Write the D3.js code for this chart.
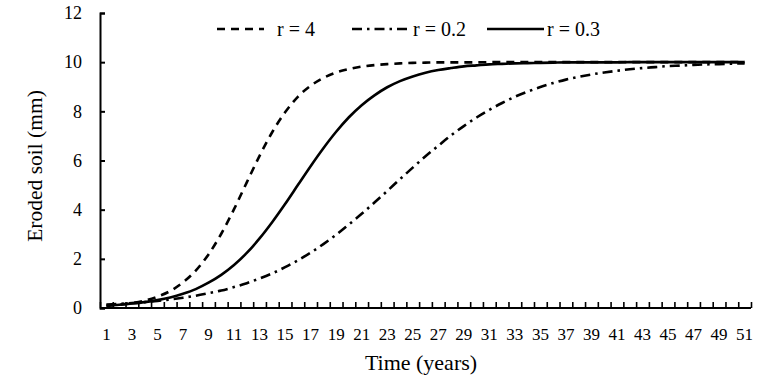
<!DOCTYPE html>
<html>
<head>
<meta charset="utf-8">
<script src="https://cdn.jsdelivr.net/npm/d3@7"></script>
<style>
  html, body { margin: 0; padding: 0; background: #fff; }
  svg { display: block; }
  text { font-family: "Liberation Serif", "Times New Roman", serif; fill: #000; }
</style>
</head>
<body>
<svg id="chart" width="783" height="388"></svg>
<script>
// ---- data ----
const years = d3.range(1, 52);
const xTickLabels = d3.range(1, 52, 2);
const yTickValues = [0, 2, 4, 6, 8, 10, 12];
const seriesNames = ["r = 4", "r = 0.2", "r = 0.3"];

const r4 = [0.08, 0.13, 0.20, 0.30, 0.46, 0.69, 1.04, 1.52, 2.18, 3.02,
            4.02, 5.11, 6.19, 7.16, 7.96, 8.59, 9.04, 9.36, 9.58, 9.72,
            9.82, 9.88, 9.92, 9.95, 9.97, 9.98, 9.99, 9.99, 9.99, 9.99,
            10, 10, 10, 10, 10, 10, 10, 10, 10, 10,
            10, 10, 10, 10, 10, 10, 10, 10, 10, 10, 10];

const r02 = [0.14, 0.17, 0.20, 0.24, 0.29, 0.35, 0.42, 0.50, 0.60, 0.71,
             0.85, 1.01, 1.20, 1.41, 1.66, 1.94, 2.25, 2.60, 2.98, 3.40,
             3.83, 4.29, 4.76, 5.24, 5.71, 6.17, 6.60, 7.02, 7.40, 7.75,
             8.06, 8.34, 8.59, 8.80, 8.99, 9.15, 9.29, 9.40, 9.50, 9.58,
             9.65, 9.71, 9.76, 9.80, 9.84, 9.86, 9.89, 9.91, 9.92, 9.94, 9.95];

const r03 = [0.10, 0.13, 0.18, 0.24, 0.32, 0.43, 0.58, 0.77, 1.03, 1.35,
             1.75, 2.24, 2.83, 3.50, 4.23, 5.00, 5.77, 6.50, 7.17, 7.76,
             8.25, 8.65, 8.98, 9.23, 9.42, 9.57, 9.68, 9.76, 9.83, 9.87,
             9.91, 9.93, 9.95, 9.96, 9.97, 9.98, 9.99, 9.99, 9.99, 9.99,
             9.99, 10, 10, 10, 10, 10, 10, 10, 10, 10, 10];

const series = [
  { name: seriesNames[0], values: r4,  dash: "8,6" },
  { name: seriesNames[1], values: r02, dash: "10,5,2.5,5" },
  { name: seriesNames[2], values: r03, dash: null }
];

// ---- layout ----
const svg = d3.select("#chart");
const mLeft = 100, mRight = 751, mTop = 13, mBottom = 308;

const xBand = d3.scaleBand().domain(years).range([mLeft, mRight]).paddingInner(0).paddingOuter(0);
const xLin = d3.scaleLinear().domain([0, years.length]).range([mLeft, mRight]);
const y = d3.scaleLinear().domain([0, 12]).range([mBottom, mTop]);
const xc = d => xBand(d) + xBand.bandwidth() / 2;

// x tick marks (between categories, inside)
const gxt = svg.append("g").attr("transform", `translate(0,${mBottom})`)
  .call(d3.axisBottom(xLin).tickValues(d3.range(0, years.length + 1)).tickSize(-6).tickFormat(""));
gxt.select(".domain").remove();
gxt.selectAll(".tick line").attr("stroke", "#000").attr("stroke-width", 1.6);

// x labels
const gxl = svg.append("g").attr("transform", `translate(0,${mBottom})`)
  .call(d3.axisBottom(xBand).tickValues(xTickLabels).tickSize(0).tickPadding(20));
gxl.select(".domain").remove();
gxl.selectAll(".tick text").attr("font-size", 17).attr("font-family", "Liberation Serif").attr("fill", "#000");

// y axis
const gy = svg.append("g").attr("transform", `translate(${mLeft},0)`)
  .call(d3.axisLeft(y).tickValues(yTickValues).tickSize(-5).tickPadding(18));
gy.select(".domain").attr("stroke", "#000").attr("stroke-width", 2);
gy.selectAll(".tick line").attr("stroke", "#000").attr("stroke-width", 2);
gy.selectAll(".tick text").attr("font-size", 18).attr("font-family", "Liberation Serif").attr("fill", "#000");

// x axis line
svg.append("line").attr("x1", mLeft).attr("x2", mRight).attr("y1", mBottom).attr("y2", mBottom)
  .attr("stroke", "#000").attr("stroke-width", 2.2);

// lines
const line = d3.line().x((d, i) => xc(years[i])).y(d => y(d)).curve(d3.curveMonotoneX);
svg.append("g").selectAll("path").data(series).join("path")
  .attr("d", s => line(s.values))
  .attr("fill", "none").attr("stroke", "#000").attr("stroke-width", 2.6)
  .attr("stroke-dasharray", s => s.dash);

// axis titles
svg.append("text").attr("x", 421).attr("y", 370).attr("text-anchor", "middle")
  .attr("font-size", 22).text("Time (years)");
svg.append("text").attr("transform", "translate(42,166) rotate(-90)").attr("text-anchor", "middle")
  .attr("font-size", 21.5).text("Eroded soil (mm)");

// legend
const legendItems = [
  { s: series[0], x1: 217, x2: 264, tx: 277 },
  { s: series[1], x1: 352, x2: 407, tx: 413 },
  { s: series[2], x1: 487, x2: 544, tx: 547 }
];
const lg = svg.append("g");
legendItems.forEach(it => {
  lg.append("line").attr("x1", it.x1).attr("x2", it.x2).attr("y1", 29).attr("y2", 29)
    .attr("stroke", "#000").attr("stroke-width", 2.6).attr("stroke-dasharray", it.s.dash);
  lg.append("text").attr("x", it.tx).attr("y", 29).attr("dy", "0.35em")
    .attr("font-size", 20).text(it.s.name);
});
</script>
</body>
</html>
